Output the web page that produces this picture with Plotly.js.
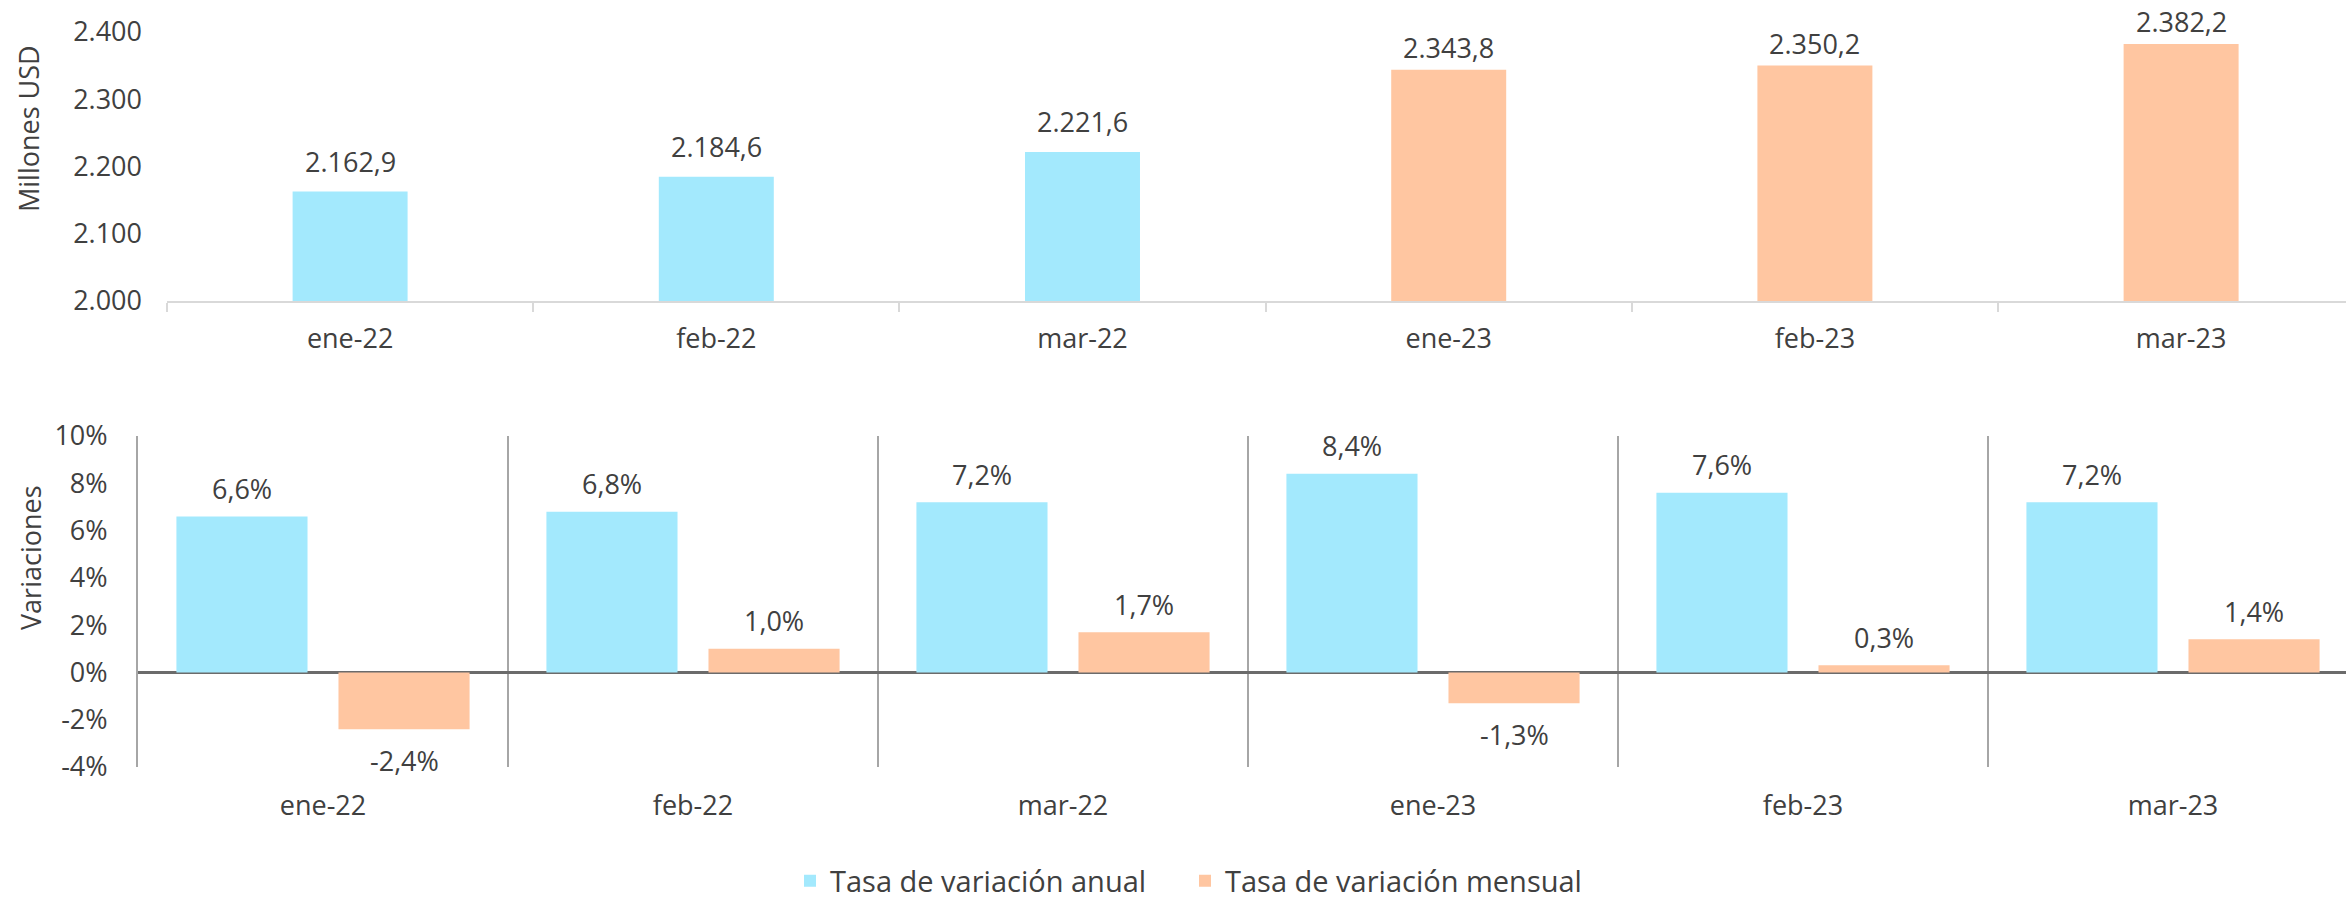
<!DOCTYPE html>
<html>
<head>
<meta charset="utf-8">
<script src="https://cdn.plot.ly/plotly-3.0.1.min.js"></script>
<style>html,body{margin:0;padding:0;background:#fff;}#chart{width:2346px;height:901px;}</style>
</head>
<body>
<div id="chart"></div>
<script>
// ---- data ----
const categories = ['ene-22', 'feb-22', 'mar-22', 'ene-23', 'feb-23', 'mar-23'];
const millonesUSD = [2162.9, 2184.6, 2221.6, 2343.8, 2350.2, 2382.2];
const tasaAnual = [6.6, 6.8, 7.2, 8.4, 7.6, 7.2];
const tasaMensual = [-2.4, 1.0, 1.7, -1.3, 0.3, 1.4];
const topTicks = [2000, 2100, 2200, 2300, 2400];
const bottomTicks = [-4, -2, 0, 2, 4, 6, 8, 10];
const seriesNames = ['Tasa de variación anual', 'Tasa de variación mensual'];

// ---- style ----
const CYAN = '#A3E9FD';
const PEACH = '#FFC6A1';
const TEXT = '#404040';
const FONT = '"Open Sans", Lato, sans-serif';
const FS = 27;
const W = 2346, H = 901;
const BARGAP = 0.124, BARGROUPGAP = 0.191;

function fmt(v, d) {
  const neg = v < 0;
  let s = Math.abs(v).toFixed(d);
  let parts = s.split('.');
  let i = parts[0].replace(/\B(?=(\d{3})+(?!\d))/g, '.');
  let out = parts[1] !== undefined ? i + ',' + parts[1] : i;
  return (neg ? '-' : '') + out;
}

const is2022 = c => c.endsWith('22');
const topColors = categories.map(c => is2022(c) ? CYAN : PEACH);

const traces = [
  {
    type: 'bar', x: categories, y: millonesUSD, xaxis: 'x', yaxis: 'y',
    marker: {color: topColors}, width: 0.314, showlegend: false, hoverinfo: 'skip'
  },
  {
    type: 'bar', name: seriesNames[0], x: categories, y: tasaAnual, xaxis: 'x2', yaxis: 'y2',
    marker: {color: CYAN}, hoverinfo: 'skip'
  },
  {
    type: 'bar', name: seriesNames[1], x: categories, y: tasaMensual, xaxis: 'x2', yaxis: 'y2',
    marker: {color: PEACH}, hoverinfo: 'skip'
  }
];

const annotations = [];
categories.forEach((c, i) => {
  annotations.push({
    xref: 'x', yref: 'y', x: c, y: millonesUSD[i], text: fmt(millonesUSD[i], 1),
    showarrow: false, xanchor: 'center', yanchor: 'middle', yshift: is2022(c) ? 30 : 22,
    font: {family: FONT, size: FS, color: TEXT}
  });
});
const off = (1 - BARGAP) / 4;
[tasaAnual, tasaMensual].forEach((arr, k) => {
  arr.forEach((v, i) => {
    annotations.push({
      xref: 'x2', yref: 'y2', x: i + (k === 0 ? -off : off), y: v, text: fmt(v, 1) + '%',
      showarrow: false, xanchor: 'center', yanchor: 'middle', yshift: v >= 0 ? 28 : -31,
      font: {family: FONT, size: FS, color: TEXT}
    });
  });
});
annotations.push({
  xref: 'paper', yref: 'paper', x: 28 / W, y: 1 - 129 / H, text: 'Millones USD', textangle: -90,
  showarrow: false, xanchor: 'center', yanchor: 'middle', font: {family: FONT, size: FS, color: TEXT}
});
annotations.push({
  xref: 'paper', yref: 'paper', x: 30 / W, y: 1 - 558 / H, text: 'Variaciones', textangle: -90,
  showarrow: false, xanchor: 'center', yanchor: 'middle', font: {family: FONT, size: FS, color: TEXT}
});

const layout = {
  width: W, height: H, autosize: false,
  margin: {l: 0, r: 0, t: 0, b: 0, pad: 0, autoexpand: false},
  paper_bgcolor: '#fff', plot_bgcolor: 'rgba(0,0,0,0)',
  font: {family: FONT, size: FS, color: TEXT},
  separators: ',.',
  barmode: 'group', bargap: BARGAP, bargroupgap: BARGROUPGAP,
  showlegend: true,
  legend: {
    orientation: 'h', x: 790 / W, xanchor: 'left', y: 1 - 881 / H, yanchor: 'middle',
    font: {family: FONT, size: 29, color: TEXT}, itemwidth: 30, entrywidth: 350,
    traceorder: 'normal', bgcolor: 'rgba(0,0,0,0)'
  },
  xaxis: {
    domain: [167 / W, 1], range: [-0.5, -0.5 + (W - 167) / 366.2], type: 'category',
    showline: true, linecolor: '#D9D9D9', linewidth: 2,
    ticks: 'outside', tickson: 'boundaries', ticklen: 9, tickcolor: '#D9D9D9', tickwidth: 2,
    showgrid: false, zeroline: false, ticklabelstandoff: 13,
    tickfont: {family: FONT, size: FS, color: TEXT}, fixedrange: true
  },
  yaxis: {
    domain: [1 - 301 / H, 1 - 32 / H], range: [2000, 2400],
    tickvals: topTicks, ticktext: topTicks.map(v => fmt(v, 0)),
    showline: false, showgrid: false, zeroline: false, ticks: '', ticklabelstandoff: 24,
    tickfont: {family: FONT, size: FS, color: TEXT}, fixedrange: true
  },
  xaxis2: {
    domain: [138 / W, 1], range: [-0.5, -0.5 + (W - 138) / 370], type: 'category',
    anchor: 'y2', showline: false, ticks: '', tickson: 'boundaries',
    showgrid: true, gridcolor: '#A6A6A6', gridwidth: 2, zeroline: false,
    ticklabelstandoff: 20,
    tickfont: {family: FONT, size: FS, color: TEXT}, fixedrange: true
  },
  yaxis2: {
    domain: [1 - 767 / H, 1 - 436 / H], range: [-4, 10], anchor: 'x2',
    tickvals: bottomTicks, ticktext: bottomTicks.map(v => v + '%'),
    showline: true, linecolor: '#A6A6A6', linewidth: 2,
    showgrid: false, zeroline: true, zerolinecolor: '#6B6B6B', zerolinewidth: 2.5,
    ticks: '', ticklabelstandoff: 23,
    tickfont: {family: FONT, size: FS, color: TEXT}, fixedrange: true
  },
  annotations: annotations
};

Plotly.newPlot('chart', traces, layout, {staticPlot: true, displayModeBar: false});
</script>
</body>
</html>
